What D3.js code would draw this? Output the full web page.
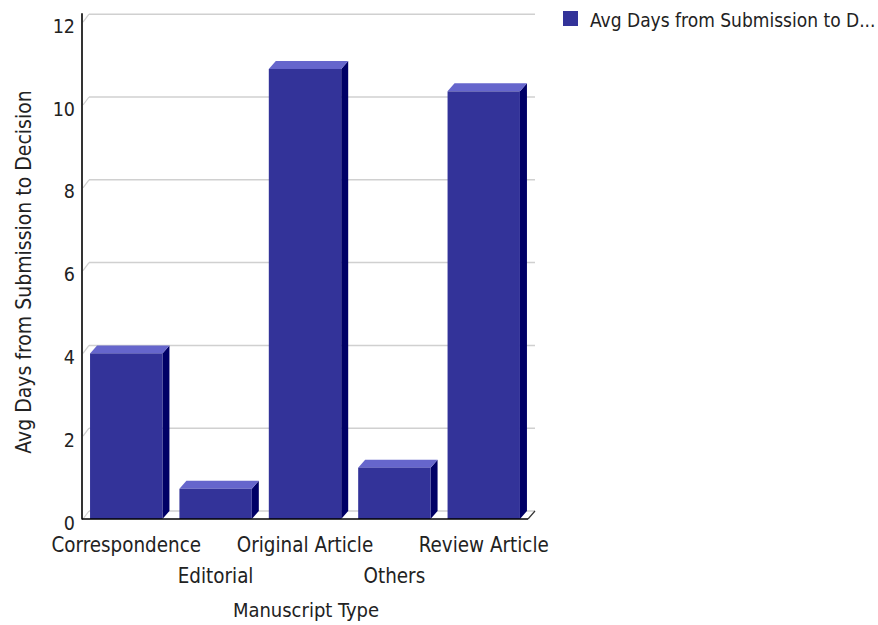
<!DOCTYPE html>
<html><head><meta charset="utf-8">
<script src="https://cdn.jsdelivr.net/npm/d3@7"></script>
<style>body{margin:0;background:#fff}svg{display:block}text{font-family:"DejaVu Sans Condensed","DejaVu Sans",sans-serif;fill:#222}</style>
</head><body>
<svg id="c" width="878" height="625"></svg>
<script>
const categories = ["Correspondence","Editorial","Original Article","Others","Review Article"];
const values = [4.0, 0.73, 10.87, 1.24, 10.33];
const yTicks = [0,2,4,6,8,10,12];
const seriesName = "Avg Days from Submission to D...";
const xTitle = "Manuscript Type";
const yTitle = "Avg Days from Submission to Decision";

const svg = d3.select("#c");
const left = 82, right = 528, y0 = 519, dx = 7, dy = 8;
const x = d3.scaleBand().domain(categories).range([left, right]).paddingInner(0.19).paddingOuter(0.09);
const y = d3.scaleLinear().domain([0,12]).range([y0, y0 - 12*41.4]);
const fs = 19.5, fsCat = 20.4, fsXTitle = 20, fsYTitle = 21, fsLegend = 19;

// gridlines (back plane)
const g = svg.append("g");
yTicks.forEach(t => {
  g.append("line").attr("x1", left+dx).attr("x2", right+dx).attr("y1", y(t)-dy).attr("y2", y(t)-dy)
   .attr("stroke", "#d0d0d0").attr("stroke-width", 1.5);
  g.append("line").attr("x1", left+1).attr("x2", left+dx).attr("y1", y(t)).attr("y2", y(t)-dy)
   .attr("stroke", "#d0d0d0").attr("stroke-width", 1.2);
});
// floor right edge
g.append("line").attr("x1", right).attr("x2", right+dx).attr("y1", y0).attr("y2", y0-dy).attr("stroke","#333").attr("stroke-width",1.2);

// bars
const bars = svg.append("g");
categories.forEach((c,i) => {
  const bx = x(c), bw = x.bandwidth(), top = y(values[i]);
  bars.append("polygon").attr("points", [[bx+bw,top],[bx+bw+dx,top-dy],[bx+bw+dx,y0-dy],[bx+bw,y0]].join(" ")).attr("fill","#000066");
  bars.append("polygon").attr("points", [[bx,top],[bx+dx,top-dy],[bx+bw+dx,top-dy],[bx+bw,top]].join(" ")).attr("fill","#6666cc");
  bars.append("rect").attr("x", bx).attr("y", top).attr("width", bw).attr("height", y0-top).attr("fill","#333399");
});

// axes lines
svg.append("line").attr("x1", left).attr("x2", left).attr("y1", y(12)-9).attr("y2", y0+0.5).attr("stroke","#000").attr("stroke-width",1.6);
svg.append("line").attr("x1", left).attr("x2", right).attr("y1", y0).attr("y2", y0).attr("stroke","#000").attr("stroke-width",1.6);

// y tick labels
yTicks.forEach(t => {
  svg.append("text").attr("x", 75).attr("y", y(t)+10.5).attr("text-anchor","end").attr("font-size",fs).text(t);
});

// x labels (staggered)
categories.forEach((c,i) => {
  svg.append("text").attr("x", x(c)+x.bandwidth()/2).attr("y", i%2===0 ? 552 : 583)
    .attr("text-anchor","middle").attr("font-size",fsCat).text(c);
});

svg.append("text").attr("x", 306).attr("y", 617).attr("text-anchor","middle").attr("font-size",fsXTitle).text(xTitle);
svg.append("text").attr("transform","translate(31,272) rotate(-90)").attr("text-anchor","middle").attr("font-size",fsYTitle).text(yTitle);

// legend
svg.append("rect").attr("x",563).attr("y",11).attr("width",15).attr("height",15).attr("fill","#333399");
svg.append("text").attr("x",590).attr("y",27).attr("font-size",fsLegend).text(seriesName);
</script>
</body></html>
